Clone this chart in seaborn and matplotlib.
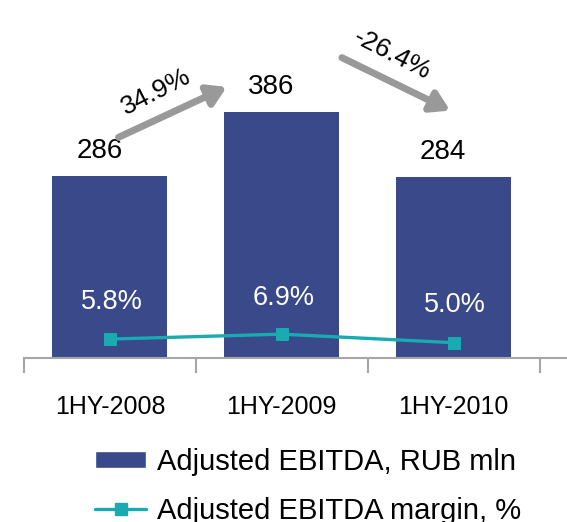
import numpy as np
import pandas as pd
import matplotlib
matplotlib.use("Agg")
import matplotlib.pyplot as plt
import seaborn as sns
from matplotlib.patches import Patch
from matplotlib.lines import Line2D

# data
periods = ["1HY-2008", "1HY-2009", "1HY-2010"]
ebitda = [286, 386, 284]
margin = [5.8, 6.9, 5.0]
margin_labels = ["5.8%", "6.9%", "5.0%"]
changes = ["34.9%", "-26.4%"]

BAR_COL = "#394989"
LINE_COL = "#19aab2"
GREY = "#a6a6a6"

sns.set_theme(style="white")
plt.rcParams["font.family"] = ["Liberation Sans", "DejaVu Sans"]
plt.rcParams["text.color"] = "black"
plt.rcParams["xtick.labelcolor"] = "black"

df = pd.DataFrame({"period": periods, "ebitda": ebitda, "margin": margin,
                   "pos": range(len(periods))})

fig = plt.figure(figsize=(5.67, 5.22), dpi=100)
ax = fig.add_axes([24 / 567, 164 / 522, 1 - 24 / 567, 338 / 522])

sns.barplot(data=df, x="period", y="ebitda", color=BAR_COL, width=0.67,
            saturation=1, linewidth=0, ax=ax)
ax.set_xlim(-0.5, 2.66)
ax.set_ylim(0, 530)

# value labels above bars
for i, v in enumerate(ebitda):
    ax.text(i - 0.06, v + 18, str(v), ha="center", va="bottom", fontsize=20)

# secondary axis for margin line
ax2 = ax.twinx()
sns.lineplot(data=df, x="pos", y="margin", color=LINE_COL, marker="s",
             markersize=8, markeredgecolor=LINE_COL, linewidth=2.4, ax=ax2)
ax2.set_ylim(1.6, 76.7)
ax2.set_yticks([])
ax2.set_ylabel("")
for s in ax2.spines.values():
    s.set_visible(False)

for i, (m, lab) in enumerate(zip(margin, margin_labels)):
    ax2.text(i + 0.01, m + 8.3 - (0.3 if i == 1 else 0), lab, ha="center",
             va="center", fontsize=19.5, color="white")

# growth arrows
arrow_kw = dict(arrowstyle="-|>,head_length=0.9,head_width=0.55",
                color="#999999", lw=5, shrinkA=0, shrinkB=0)
ax.annotate("", xy=(0.68, 425), xytext=(0.05, 346), arrowprops=arrow_kw)
ax.annotate("", xy=(1.98, 388), xytext=(1.35, 471), arrowprops=arrow_kw)
ax.text(0.27, 418, changes[0], rotation=27, ha="center", va="center",
        fontsize=19)
ax.text(1.645, 476, changes[1], rotation=-27, ha="center", va="center",
        fontsize=19)

# axes styling
ax.set_xlabel("")
ax.set_ylabel("")
ax.set_yticks([])
for side in ["left", "right", "top"]:
    ax.spines[side].set_visible(False)
ax.spines["bottom"].set_color(GREY)
ax.spines["bottom"].set_linewidth(1.5)
ax.set_xticks(range(len(periods)))
ax.set_xticklabels(periods, fontsize=18)
ax.set_xticks([-0.5, 0.5, 1.5, 2.5], minor=True)
ax.tick_params(axis="x", which="major", length=0, pad=27)
ax.tick_params(axis="x", which="minor", length=11, width=1.5, color=GREY,
               direction="out", bottom=True)

handles = [Patch(facecolor=BAR_COL, label="Adjusted EBITDA, RUB mln"),
           Line2D([0], [0], color=LINE_COL, marker="s", markersize=8,
                  linewidth=2.4, label="Adjusted EBITDA margin, %")]
fig.legend(handles=handles, loc="upper left", bbox_to_anchor=(0.168, 0.142),
           frameon=False, fontsize=21, handlelength=1.75, handleheight=0.55,
           handletextpad=0.35, labelspacing=0.72, borderaxespad=0,
           borderpad=0)

fig.savefig("out.png", dpi=100)
